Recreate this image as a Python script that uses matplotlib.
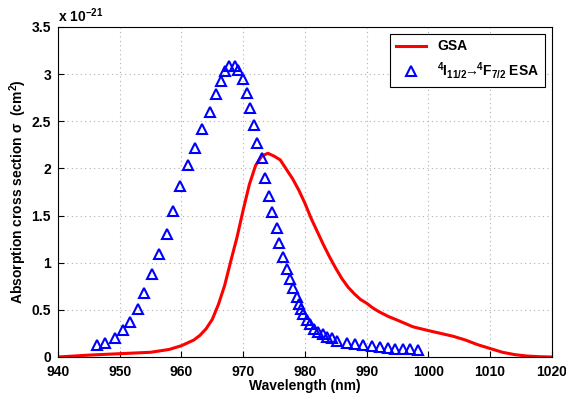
import numpy as np
import matplotlib
matplotlib.use("Agg")
import matplotlib.pyplot as plt

plt.rcParams['font.family'] = ['Liberation Sans', 'DejaVu Sans']
plt.rcParams['font.weight'] = 'bold'
plt.rcParams['mathtext.fontset'] = 'custom'
plt.rcParams['mathtext.rm'] = 'Liberation Sans:bold'
plt.rcParams['mathtext.bf'] = 'Liberation Sans:bold'
plt.rcParams['mathtext.it'] = 'Liberation Sans:bold'

# GSA curve (x 1e-21 cm^2)
gsa_wl = [940, 945, 950, 955, 958, 960, 962, 963, 964, 965, 966, 967, 968, 969,
          970, 971, 972, 973, 974, 975, 976, 977, 978, 979, 980, 981, 982,
          983, 984, 985, 986, 987, 988, 989, 990, 991, 992, 993.5, 995, 997.5,
          1000, 1002, 1004, 1006, 1008, 1010, 1012, 1014, 1016, 1018, 1020]
gsa_val = [0.00, 0.02, 0.035, 0.05, 0.08, 0.12, 0.18, 0.23, 0.30, 0.40, 0.56,
           0.76, 1.02, 1.27, 1.56, 1.83, 2.03, 2.13, 2.16, 2.13, 2.09, 1.99,
           1.89, 1.77, 1.63, 1.47, 1.33, 1.19, 1.06, 0.94, 0.83, 0.74, 0.67,
           0.61, 0.57, 0.52, 0.48, 0.43, 0.39, 0.32, 0.28, 0.25, 0.22, 0.18,
           0.13, 0.09, 0.05, 0.025, 0.01, 0.003, 0.0]

# ESA 4I11/2 -> 4F7/2 points
esa_wl = [946.3, 947.6, 949.2, 950.6, 951.7, 953.0, 953.9, 955.2, 956.4, 957.6,
          958.6, 959.8, 961.1, 962.2, 963.4, 964.6, 965.6, 966.4, 967.0, 967.7,
          968.7, 969.1, 969.9, 970.6, 971.1, 971.8, 972.3, 973.1, 973.6, 974.2,
          974.7, 975.4, 975.8, 976.4, 977.1, 977.5, 978.1, 978.7, 979.1, 979.3,
          979.7, 980.4, 980.8, 981.5, 982.1, 982.9, 983.6, 984.4, 985.2, 986.8,
          988.1, 989.4, 990.9, 992.2, 993.5, 994.6, 995.9, 997.1, 998.3]
esa_val = [0.13, 0.15, 0.20, 0.29, 0.37, 0.51, 0.68, 0.88, 1.09, 1.30,
           1.55, 1.81, 2.04, 2.22, 2.42, 2.60, 2.79, 2.93, 3.03, 3.09,
           3.09, 3.04, 2.95, 2.80, 2.64, 2.46, 2.27, 2.11, 1.90, 1.71,
           1.54, 1.37, 1.21, 1.06, 0.93, 0.83, 0.73, 0.64, 0.56, 0.51,
           0.46, 0.39, 0.35, 0.30, 0.27, 0.24, 0.21, 0.20, 0.17, 0.15,
           0.14, 0.13, 0.12, 0.11, 0.10, 0.09, 0.085, 0.08, 0.075]

fig = plt.figure(figsize=(5.66, 3.96), dpi=100)
ax = fig.add_axes([0.1025, 0.0985, 0.8725, 0.8335])

ax.plot(gsa_wl, gsa_val, color='#ff0000', lw=2.2, label='GSA')
ax.plot(esa_wl, esa_val, ls='none', marker='^', mfc='none', mec='#0000ff',
        ms=7, mew=1.5, label=r'$^{4}I_{11/2}\!\!\rightarrow\!\!^{4}F_{7/2}$ ESA')

ax.set_xlim(940, 1020)
ax.set_ylim(0, 3.5)
ax.set_xticks(np.arange(940, 1021, 10))
ax.set_yticks(np.arange(0, 3.51, 0.5))
ax.set_yticklabels(['0', '0.5', '1', '1.5', '2', '2.5', '3', '3.5'])
ax.tick_params(direction='in', labelsize=10, length=4, width=0.8)
ax.tick_params(axis='x', pad=6)
ax.tick_params(axis='y', pad=5)
for lab in ax.get_xticklabels() + ax.get_yticklabels():
    lab.set_fontweight('bold')
ax.grid(True, ls=(0, (1, 3)), color='#b0b0b0', lw=0.8)
for s in ax.spines.values():
    s.set_linewidth(0.8)

ax.set_xlabel('Wavelength (nm)', fontsize=10, fontweight='bold', labelpad=0)
ax.set_ylabel(r'Absorption cross section $\sigma$  (cm$^2$)', fontsize=10,
              fontweight='bold')
ax.yaxis.set_label_coords(-0.058, 0.5)
ax.text(0.0, 1.005, r'x 10$^{-21}$', transform=ax.transAxes, fontsize=10,
        fontweight='bold', ha='left', va='bottom')

leg = ax.legend(loc='upper right', fontsize=10, fancybox=False, framealpha=1,
                edgecolor='black', borderaxespad=0.5, handlelength=2.2)
leg.get_frame().set_linewidth(0.8)
for t in leg.get_texts():
    t.set_fontweight('bold')

fig.savefig('out.png', dpi=100)
